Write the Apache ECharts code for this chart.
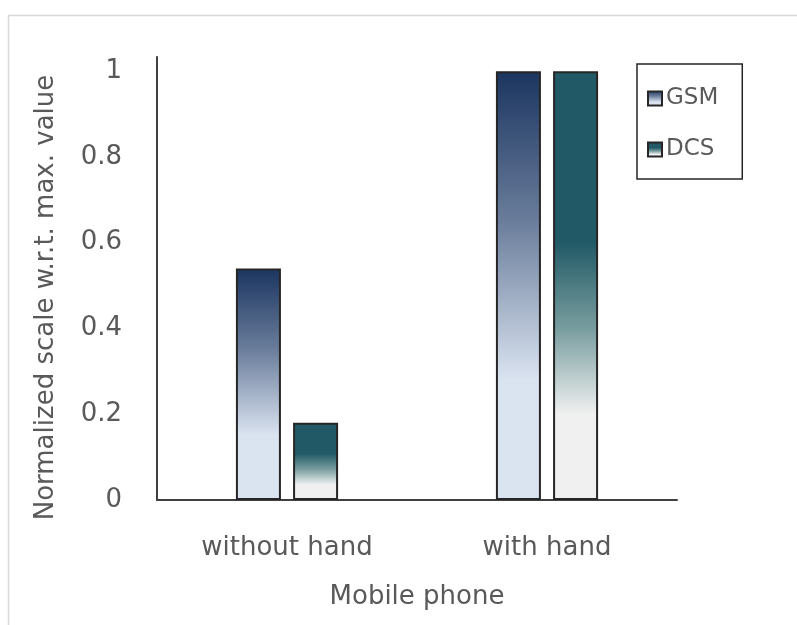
<!DOCTYPE html>
<html>
<head>
<meta charset="utf-8">
<script src="https://cdn.jsdelivr.net/npm/echarts@6/dist/echarts.min.js"></script>
<style>
html,body{margin:0;padding:0;background:#fff;}
#chart{width:797px;height:625px;}
</style>
</head>
<body>
<div id="chart"></div>
<script>
const categories = ['without hand', 'with hand'];
const gsmValues = [0.54, 1.0];
const dcsValues = [0.18, 1.0];
const seriesNames = ['GSM', 'DCS'];
const yTicks = [0, 0.2, 0.4, 0.6, 0.8, 1];

const FONT = 'DejaVu Sans';
const TXT = '#595959';

const gsmGrad = new echarts.graphic.LinearGradient(0, 0, 0, 1, [
  {offset: 0, color: '#1b3560'},
  {offset: 0.35, color: '#6a7d9b'},
  {offset: 0.72, color: '#dae3f0'},
  {offset: 1, color: '#dae3f0'}
]);
const dcsGrad = new echarts.graphic.LinearGradient(0, 0, 0, 1, [
  {offset: 0, color: '#215a66'},
  {offset: 0.4, color: '#215a66'},
  {offset: 0.6, color: '#789d9f'},
  {offset: 0.8, color: '#f0f0f0'},
  {offset: 1, color: '#f0f0f0'}
]);

const chart = echarts.init(document.getElementById('chart'), null, {renderer: 'canvas'});
chart.setOption({
  animation: false,
  backgroundColor: '#fff',
  graphic: [{
    type: 'rect', left: 6, top: 13, silent: true,
    shape: {width: 800, height: 620},
    style: {fill: 'none', stroke: '#d9d9d9', lineWidth: 1.5}
  }],
  grid: {left: 157, right: 120, top: 57, bottom: 125},
  legend: {
    orient: 'vertical',
    left: 637, top: 64,
    padding: [23, 24, 18, 10],
    itemGap: 28,
    icon: 'rect',
    itemWidth: 14, itemHeight: 14,
    borderColor: '#262626', borderWidth: 1.5,
    textStyle: {fontFamily: FONT, fontSize: 23, color: TXT, padding: [0, 0, 0, -1]},
    data: seriesNames
  },
  xAxis: {
    type: 'category',
    data: categories,
    axisLine: {lineStyle: {color: '#404040', width: 2}},
    axisTick: {show: false},
    axisLabel: {fontFamily: FONT, fontSize: 26, color: TXT, margin: 35},
    name: 'Mobile phone',
    nameLocation: 'middle',
    nameGap: 84,
    nameTextStyle: {fontFamily: FONT, fontSize: 26, color: TXT}
  },
  yAxis: {
    type: 'value',
    min: 0, max: 1.033, interval: 0.2,
    axisLine: {show: true, lineStyle: {color: '#404040', width: 2}},
    axisTick: {show: false},
    splitLine: {show: false},
    axisLabel: {fontFamily: FONT, fontSize: 26, color: TXT, margin: 35, showMaxLabel: false,
      formatter: v => (yTicks.some(t => Math.abs(t - v) < 1e-6) ? String(+v.toFixed(1)) : '')},
    name: 'Normalized scale w.r.t. max. value',
    nameLocation: 'middle',
    nameGap: 98,
    nameTextStyle: {fontFamily: FONT, fontSize: 26, color: TXT, padding: [0, 38, 0, 0]}
  },
  series: [
    {
      name: 'GSM', type: 'bar', data: gsmValues,
      barWidth: 45, barGap: '27%',
      itemStyle: {color: gsmGrad, borderColor: '#262626', borderWidth: 2}
    },
    {
      name: 'DCS', type: 'bar', data: dcsValues,
      barWidth: 45, barGap: '27%',
      itemStyle: {color: dcsGrad, borderColor: '#262626', borderWidth: 2}
    }
  ]
});
</script>
</body>
</html>
